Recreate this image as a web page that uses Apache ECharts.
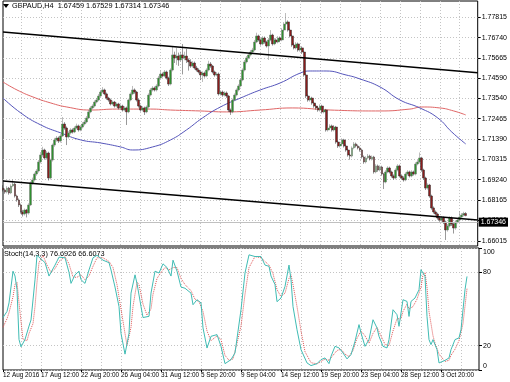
<!DOCTYPE html>
<html><head><meta charset="utf-8">
<script src="https://cdn.jsdelivr.net/npm/echarts@6/dist/echarts.min.js"></script>
<style>html,body{margin:0;padding:0;background:#fff}#c{width:510px;height:382px}</style>
</head><body><div id="c"></div>
<script>
const symbol = 'GBPAUD,H4';
const barSlots = 239;
const opens = [
1.6880,1.6870,1.6859,1.6880,1.6854,1.6891,1.6901,1.6838,1.6817,1.6791,
1.6754,1.6743,1.6764,1.6748,1.6791,1.6907,1.6923,1.6954,1.6970,1.7018,
1.7055,1.7081,1.7039,1.7065,1.6933,1.7028,1.7107,1.7134,1.7144,1.7128,
1.7155,1.7218,1.7197,1.7150,1.7171,1.7187,1.7176,1.7197,1.7208,1.7187,
1.7202,1.7218,1.7229,1.7250,1.7282,1.7303,1.7313,1.7334,1.7345,1.7366,
1.7387,1.7398,1.7377,1.7355,1.7345,1.7324,1.7334,1.7313,1.7324,1.7303,
1.7313,1.7292,1.7303,1.7282,1.7345,1.7377,1.7398,1.7387,1.7345,1.7313,
1.7292,1.7303,1.7282,1.7308,1.7371,1.7398,1.7408,1.7398,1.7419,1.7461,
1.7482,1.7472,1.7493,1.7461,1.7429,1.7503,1.7583,1.7567,1.7577,1.7556,
1.7583,1.7567,1.7577,1.7556,1.7546,1.7524,1.7540,1.7514,1.7503,1.7493,
1.7477,1.7487,1.7472,1.7503,1.7535,1.7524,1.7493,1.7477,1.7482,1.7377,
1.7387,1.7371,1.7382,1.7366,1.7292,1.7282,1.7345,1.7371,1.7398,1.7419,
1.7451,1.7503,1.7546,1.7567,1.7583,1.7598,1.7609,1.7651,1.7683,1.7662,
1.7641,1.7672,1.7651,1.7630,1.7662,1.7688,1.7641,1.7662,1.7651,1.7672,
1.7662,1.7714,1.7746,1.7757,1.7714,1.7683,1.7635,1.7620,1.7641,1.7609,
1.7620,1.7598,1.7477,1.7366,1.7345,1.7355,1.7329,1.7313,1.7303,1.7292,
1.7313,1.7282,1.7292,1.7187,1.7197,1.7208,1.7187,1.7202,1.7123,1.7102,
1.7113,1.7134,1.7102,1.7081,1.7055,1.7049,1.7092,1.7113,1.7102,1.7092,
1.7081,1.7044,1.7018,1.7039,1.7049,1.7034,1.7044,1.6965,1.6997,1.6975,
1.6991,1.6954,1.6912,1.6965,1.6986,1.6965,1.6944,1.6933,1.6975,1.6997,
1.6944,1.6933,1.6923,1.6954,1.6965,1.6944,1.6965,1.6954,1.7007,1.7018,
1.7039,1.6975,1.6933,1.6880,1.6896,1.6838,1.6775,1.6754,1.6743,1.6722,
1.6711,1.6722,1.6701,1.6659,1.6680,1.6722,1.6690,1.6669,1.6701,1.6711,
1.6727,1.6738,1.67459];
const closes = [
1.6870,1.6859,1.6880,1.6854,1.6891,1.6901,1.6838,1.6817,1.6791,1.6754,
1.6743,1.6764,1.6748,1.6791,1.6907,1.6923,1.6954,1.6970,1.7018,1.7055,
1.7081,1.7039,1.7065,1.6933,1.7028,1.7107,1.7134,1.7144,1.7128,1.7155,
1.7218,1.7197,1.7150,1.7171,1.7187,1.7176,1.7197,1.7208,1.7187,1.7202,
1.7218,1.7229,1.7250,1.7282,1.7303,1.7313,1.7334,1.7345,1.7366,1.7387,
1.7398,1.7377,1.7355,1.7345,1.7324,1.7334,1.7313,1.7324,1.7303,1.7313,
1.7292,1.7303,1.7282,1.7345,1.7377,1.7398,1.7387,1.7345,1.7313,1.7292,
1.7303,1.7282,1.7308,1.7371,1.7398,1.7408,1.7398,1.7419,1.7461,1.7482,
1.7472,1.7493,1.7461,1.7429,1.7503,1.7583,1.7567,1.7577,1.7556,1.7583,
1.7567,1.7577,1.7556,1.7546,1.7524,1.7540,1.7514,1.7503,1.7493,1.7477,
1.7487,1.7472,1.7503,1.7535,1.7524,1.7493,1.7477,1.7482,1.7377,1.7387,
1.7371,1.7382,1.7366,1.7292,1.7282,1.7345,1.7371,1.7398,1.7419,1.7451,
1.7503,1.7546,1.7567,1.7583,1.7598,1.7609,1.7651,1.7683,1.7662,1.7641,
1.7672,1.7651,1.7630,1.7662,1.7688,1.7641,1.7662,1.7651,1.7672,1.7662,
1.7714,1.7746,1.7757,1.7714,1.7683,1.7635,1.7620,1.7641,1.7609,1.7620,
1.7598,1.7477,1.7366,1.7345,1.7355,1.7329,1.7313,1.7303,1.7292,1.7313,
1.7282,1.7292,1.7187,1.7197,1.7208,1.7187,1.7202,1.7123,1.7102,1.7113,
1.7134,1.7102,1.7081,1.7055,1.7049,1.7092,1.7113,1.7102,1.7092,1.7081,
1.7044,1.7018,1.7039,1.7049,1.7034,1.7044,1.6965,1.6997,1.6975,1.6991,
1.6954,1.6912,1.6965,1.6986,1.6965,1.6944,1.6933,1.6975,1.6997,1.6944,
1.6933,1.6923,1.6954,1.6965,1.6944,1.6965,1.6954,1.7007,1.7018,1.7039,
1.6975,1.6933,1.6880,1.6896,1.6838,1.6775,1.6754,1.6743,1.6722,1.6711,
1.6722,1.6701,1.6659,1.6680,1.6722,1.6690,1.6669,1.6701,1.6711,1.6727,
1.6738,1.67459,1.67346];
const highs = [
1.6895,1.6878,1.6890,1.6886,1.6900,1.6925,1.6908,1.6845,1.6825,1.6798,
1.6765,1.6772,1.6770,1.6800,1.6915,1.6935,1.6962,1.6980,1.7028,1.7070,
1.7098,1.7088,1.7075,1.7072,1.7035,1.7115,1.7145,1.7155,1.7152,1.7165,
1.7255,1.7228,1.7205,1.7180,1.7196,1.7195,1.7206,1.7220,1.7215,1.7212,
1.7228,1.7240,1.7260,1.7292,1.7312,1.7322,1.7343,1.7356,1.7376,1.7398,
1.7413,1.7405,1.7384,1.7362,1.7352,1.7342,1.7340,1.7332,1.7330,1.7322,
1.7320,1.7312,1.7310,1.7352,1.7385,1.7419,1.7406,1.7393,1.7352,1.7320,
1.7312,1.7310,1.7316,1.7380,1.7408,1.7418,1.7416,1.7428,1.7472,1.7500,
1.7490,1.7503,1.7500,1.7468,1.7512,1.7625,1.7600,1.7620,1.7595,1.7600,
1.7640,1.7600,1.7615,1.7565,1.7560,1.7550,1.7548,1.7525,1.7512,1.7500,
1.7496,1.7495,1.7512,1.7552,1.7545,1.7530,1.7500,1.7492,1.7490,1.7396,
1.7395,1.7391,1.7390,1.7372,1.7300,1.7352,1.7380,1.7406,1.7428,1.7460,
1.7512,1.7556,1.7577,1.7593,1.7609,1.7620,1.7662,1.7700,1.7690,1.7670,
1.7682,1.7680,1.7658,1.7672,1.7714,1.7695,1.7672,1.7670,1.7682,1.7680,
1.7724,1.7756,1.7804,1.7765,1.7722,1.7690,1.7645,1.7650,1.7648,1.7630,
1.7628,1.7605,1.7484,1.7374,1.7365,1.7362,1.7337,1.7322,1.7312,1.7322,
1.7320,1.7302,1.7298,1.7206,1.7217,1.7215,1.7212,1.7208,1.7130,1.7122,
1.7143,1.7140,1.7110,1.7088,1.7062,1.7100,1.7123,1.7120,1.7110,1.7100,
1.7088,1.7052,1.7048,1.7060,1.7056,1.7052,1.7050,1.7006,1.7004,1.7000,
1.6998,1.6960,1.6974,1.6995,1.6993,1.6972,1.6952,1.6984,1.7006,1.7004,
1.6952,1.6942,1.6963,1.6974,1.6972,1.6974,1.6972,1.7016,1.7028,1.7068,
1.7045,1.6982,1.6940,1.6905,1.6902,1.6845,1.6783,1.6762,1.6750,1.6730,
1.6731,1.6730,1.6708,1.6690,1.6731,1.6730,1.6698,1.6710,1.6720,1.6757,
1.6748,1.6755,1.67529];
const lows = [
1.6862,1.6850,1.6852,1.6845,1.6848,1.6885,1.6830,1.6808,1.6780,1.6745,
1.6730,1.6735,1.6725,1.6740,1.6785,1.6898,1.6915,1.6945,1.6962,1.7010,
1.7045,1.7030,1.7030,1.6920,1.6925,1.7020,1.7098,1.7125,1.7118,1.7120,
1.7150,1.7188,1.7107,1.7142,1.7163,1.7168,1.7170,1.7190,1.7178,1.7180,
1.7195,1.7210,1.7222,1.7244,1.7275,1.7296,1.7306,1.7327,1.7338,1.7360,
1.7380,1.7370,1.7346,1.7336,1.7316,1.7317,1.7305,1.7306,1.7295,1.7296,
1.7284,1.7285,1.7213,1.7275,1.7338,1.7370,1.7378,1.7337,1.7305,1.7284,
1.7285,1.7266,1.7275,1.7300,1.7364,1.7390,1.7390,1.7390,1.7412,1.7455,
1.7464,1.7465,1.7453,1.7419,1.7422,1.7496,1.7540,1.7530,1.7525,1.7548,
1.7480,1.7555,1.7540,1.7500,1.7515,1.7516,1.7506,1.7495,1.7485,1.7450,
1.7440,1.7463,1.7465,1.7496,1.7515,1.7485,1.7468,1.7470,1.7368,1.7368,
1.7362,1.7364,1.7356,1.7282,1.7266,1.7275,1.7338,1.7364,1.7390,1.7412,
1.7444,1.7496,1.7538,1.7560,1.7575,1.7590,1.7602,1.7645,1.7654,1.7632,
1.7634,1.7642,1.7622,1.7556,1.7655,1.7632,1.7634,1.7643,1.7644,1.7654,
1.7655,1.7707,1.7738,1.7706,1.7675,1.7626,1.7612,1.7612,1.7600,1.7600,
1.7588,1.7468,1.7355,1.7336,1.7336,1.7320,1.7304,1.7294,1.7283,1.7284,
1.7273,1.7274,1.7178,1.7178,1.7190,1.7178,1.7179,1.7114,1.7092,1.7094,
1.7106,1.7094,1.7072,1.7046,1.7030,1.7042,1.7085,1.7094,1.7084,1.7072,
1.7036,1.7008,1.7010,1.7032,1.7026,1.7026,1.6956,1.6958,1.6966,1.6968,
1.6945,1.6875,1.6905,1.6958,1.6957,1.6935,1.6924,1.6926,1.6968,1.6936,
1.6924,1.6914,1.6916,1.6946,1.6936,1.6937,1.6946,1.6947,1.7000,1.7010,
1.6966,1.6924,1.6870,1.6872,1.6829,1.6766,1.6745,1.6734,1.6713,1.6702,
1.6703,1.6690,1.6606,1.6650,1.6672,1.6680,1.6640,1.6660,1.6693,1.6703,
1.6720,1.6730,1.67314];

const dateLabels = ['12 Aug 2016','17 Aug 12:00','22 Aug 20:00','26 Aug 04:00','31 Aug 12:00','5 Sep 20:00','9 Sep 04:00','14 Sep 12:00','19 Sep 20:00','23 Sep 04:00','28 Sep 12:00','3 Oct 20:00'];
const dateLabelIdx = [0,19,39,59,79,99,119,139,159,179,199,219];
const priceTicks = [1.77815,1.76740,1.75665,1.74590,1.73540,1.72465,1.71390,1.70315,1.69240,1.68165,1.67090,1.66015];
const stochTicks = [0,20,80,100];

const maRed = [[0,1.7440],[7,1.7398],[15,1.7361],[24,1.7329],[32,1.7308],[44,1.7292],[57,1.7297],[74,1.7297],[84,1.7292],[99,1.7287],[112,1.7282],[129,1.7292],[145,1.7303],[164,1.7292],[189,1.7287],[204,1.7297],[210,1.7308],[219,1.7303],[226,1.7287],[232,1.7266]];
const maBlue = [[0,1.7355],[9,1.7276],[19,1.7213],[29,1.7171],[39,1.7134],[49,1.7118],[59,1.7097],[65,1.7081],[75,1.7097],[84,1.7134],[92,1.7187],[100,1.7250],[109,1.7308],[119,1.7355],[129,1.7398],[139,1.7435],[149,1.7487],[154,1.7498],[162,1.7498],[172,1.7477],[179,1.7456],[189,1.7414],[199,1.7345],[209,1.7303],[218,1.7250],[225,1.7176],[232,1.7113]];
const trendUpper = [[0,1.7704],[238,1.7489]];
const trendLower = [[0,1.6917],[238,1.6711]];

const stochK = [[0,43],[2,48],[3,55],[5,81],[6,77],[7,66],[8,25],[9,19],[11,25],[13,36],[14,41],[16,74],[17,94],[18,94],[21,88],[23,77],[26,86],[28,92.5],[31,92],[33,80],[34,71],[36,78],[38,81],[39,74],[41,71],[43,82],[45,92],[47,94],[50,90],[53,88],[54,82],[56,68],[58,52],[59,30],[61,13],[63,30],[64,63],[66,78],[67,71],[69,52],[70,43],[73,44],[74,63],[76,81],[78,79.5],[80,87],[82,84],[84,77],[85,90],[87,81],[89,68],[91,67],[94,63],[95,53.5],[97,57.6],[99,55],[100,34.5],[102,18],[104,27.6],[107,29],[109,19.4],[111,5.2],[114,8.5],[116,14],[119,49.4],[121,79.5],[123,94.4],[126,93],[129,93],[131,86],[133,85],[134,77],[136,70],[137,56],[139,59],[141,68.5],[143,86],[144,74],[145,52],[147,33],[149,16.7],[152,5.8],[154,3.6],[157,5.2],[159,8.5],[161,9.9],[163,5.2],[164,11.2],[166,19.4],[168,18.1],[170,14],[172,9.1],[174,12.6],[176,23.5],[178,37.2],[179,30.4],[181,19.4],[183,24.9],[185,41.2],[187,34.5],[188,27.6],[190,19.4],[192,18.1],[193,24.9],[195,49.4],[197,45.3],[198,35.8],[199,46.7],[200,57.6],[202,56.2],[203,43.9],[204,56.2],[206,59],[208,65.8],[209,82.2],[210,83.6],[211,76.7],[212,43.9],[213,24.9],[214,20.8],[215,24.9],[217,16.7],[218,5.8],[221,7.9],[223,9.9],[224,16.7],[226,24.9],[228,26.3],[229,33.1],[231,65.8],[232,76.6926]];
const stochD = [[0,35],[2,42],[3,47],[5,60],[6,70],[7,72],[8,55],[9,40],[10,25],[12,24],[13,30],[15,38],[16,52],[17,72],[18,88],[20,94],[22,86],[24,80],[26,83],[28,89],[31,93],[33,87],[35,76],[37,76],[39,78],[41,74],[43,77],[45,85],[47,92],[50,92],[53,89],[55,84],[57,70],[59,50],[61,30],[62,20],[64,35],[65,52],[67,72],[68,70],[70,54],[72,45],[74,50],[75,62],[77,75],[79,80],[81,84],[83,82],[85,84],[87,84],[89,75],[91,70],[94,65],[96,58],[98,56],[100,48],[102,32],[104,24],[107,28],[109,25],[111,12],[113,8],[115,9],[117,22],[119,36],[121,62],[123,84],[126,93],[129,92],[131,89],[133,86],[135,79],[137,66],[139,60],[141,63],[143,75],[144,78],[145,70],[147,52],[149,32],[151,15],[154,6],[157,5],[159,7],[161,9],[163,8],[165,12],[167,16],[169,17],[171,13],[173,11],[175,16],[177,26],[179,32],[181,28],[183,22],[185,30],[187,35],[189,28],[191,21],[193,20],[195,32],[197,42],[199,42],[200,48],[202,54],[203,50],[205,52],[207,58],[209,68],[210,78],[211,80],[212,68],[213,48],[215,28],[216,22],[218,13],[221,7],[223,8],[224,12],[226,17],[228,24],[230,38],[232,66.6073]];

const cats = Array.from({length: barSlots}, (_, i) => String(i));
const candleData = opens.map((o, i) => [o, closes[i], lows[i], highs[i]]);
const last = opens.length - 1;
const FONT = '"Liberation Sans", Arial, sans-serif';
const gridStyle = {color: '#c4c4c4', type: [1, 2], width: 1};
const isLabel = (i) => dateLabelIdx.indexOf(i) >= 0;

const chart = echarts.init(document.getElementById('c'), null, {renderer: 'canvas'});
chart.setOption({
  animation: false,
  backgroundColor: '#fff',
  textStyle: {fontFamily: FONT},
  grid: [
    {left: 3, top: 1, width: 476, height: 245, show: true, borderColor: '#000', borderWidth: 1},
    {left: 3, top: 248, width: 476, height: 122, show: true, borderColor: '#000', borderWidth: 1}
  ],
  xAxis: [
    {type: 'category', gridIndex: 0, data: cats, boundaryGap: false,
     axisLine: {show: false}, axisTick: {show: false}, axisLabel: {show: false},
     splitLine: {show: true, interval: (i) => i % 10 === 9, lineStyle: gridStyle}},
    {type: 'category', gridIndex: 1, data: cats, boundaryGap: false,
     axisLine: {show: false},
     axisTick: {show: true, interval: (i) => isLabel(i), length: 2, lineStyle: {color: '#000'}},
     axisLabel: {show: true, interval: (i) => isLabel(i), align: 'left', margin: 2,
       hideOverlap: false, showMinLabel: true, showMaxLabel: true,
       fontSize: 6.4, color: '#000', fontFamily: FONT,
       formatter: (v) => dateLabels[dateLabelIdx.indexOf(Number(v))] || ''},
     splitLine: {show: true, interval: (i) => i % 10 === 9, lineStyle: gridStyle}}
  ],
  yAxis: [
    {type: 'value', gridIndex: 0, position: 'right', min: 1.65742, max: 1.78675, scale: true,
     axisLine: {show: false},
     axisTick: {show: true, customValues: priceTicks, length: 3, lineStyle: {color: '#000'}},
     axisLabel: {customValues: priceTicks, formatter: (v) => v.toFixed(5), fontSize: 7, color: '#000', margin: 4, fontFamily: FONT},
     splitLine: {show: true, lineStyle: gridStyle}},
    {type: 'value', gridIndex: 1, position: 'right', min: 0, max: 100,
     axisLine: {show: false},
     axisTick: {show: true, customValues: stochTicks, length: 3, lineStyle: {color: '#000'}},
     axisLabel: {customValues: stochTicks, fontSize: 7, color: '#000', margin: 4, fontFamily: FONT,
       formatter: (v) => v === 100 ? '{t|100}' : (v === 0 ? '{b|0}' : String(v)),
       rich: {t: {fontSize: 7, padding: [9, 0, 0, 0]}, b: {fontSize: 7, padding: [0, 0, 7, 0]}}},
     splitLine: {show: true, lineStyle: gridStyle}}
  ],
  series: [
    {type: 'line', xAxisIndex: 0, yAxisIndex: 0, data: maRed, smooth: true, symbol: 'none',
     lineStyle: {color: '#e06666', width: 1}, z: 2},
    {type: 'line', xAxisIndex: 0, yAxisIndex: 0, data: maBlue, smooth: true, symbol: 'none',
     lineStyle: {color: '#5555bb', width: 1}, z: 2},
    {type: 'candlestick', xAxisIndex: 0, yAxisIndex: 0, data: candleData, barWidth: 2.4,
     itemStyle: {color: '#2f8f2f', color0: '#8b1c1c', borderColor: '#7a7a7a', borderColor0: '#333', borderWidth: 0.5},
     z: 3,
     markLine: {silent: true, symbol: 'none', animation: false,
       data: [{yAxis: closes[last]}],
       lineStyle: {color: '#c0c0c0', type: 'solid', width: 1},
       label: {position: 'end', distance: 1, formatter: () => closes[last].toFixed(5),
         backgroundColor: '#000', color: '#fff', padding: [1, 2, 1, 2], fontSize: 7, fontFamily: FONT}}},
    {type: 'line', xAxisIndex: 0, yAxisIndex: 0, data: trendUpper, symbol: 'none',
     lineStyle: {color: '#000', width: 1.5}, z: 4},
    {type: 'line', xAxisIndex: 0, yAxisIndex: 0, data: trendLower, symbol: 'none',
     lineStyle: {color: '#000', width: 1.5}, z: 4},
    {type: 'line', xAxisIndex: 1, yAxisIndex: 1, data: stochD, symbol: 'none',
     lineStyle: {color: '#e05555', width: 1, type: [1, 1]}, z: 2},
    {type: 'line', xAxisIndex: 1, yAxisIndex: 1, data: stochK, symbol: 'none',
     lineStyle: {color: '#40bcb4', width: 1}, z: 3}
  ],
  graphic: [
    {type: 'polygon', shape: {points: [[3, 4], [9, 4], [6, 8]]}, style: {fill: '#000'}},
    {type: 'text', left: 12, top: 2, style: {
      text: symbol + '  ' + opens[last].toFixed(5) + ' ' + highs[last].toFixed(5) + ' ' + lows[last].toFixed(5) + ' ' + closes[last].toFixed(5),
      fontSize: 7.3, fill: '#000', fontFamily: FONT}},
    {type: 'text', left: 4, top: 250, style: {
      text: 'Stoch(14,3,3) ' + stochK[stochK.length - 1][1].toFixed(4) + ' ' + stochD[stochD.length - 1][1].toFixed(4),
      fontSize: 7.3, fill: '#000', fontFamily: FONT}}
  ]
});
</script></body></html>
